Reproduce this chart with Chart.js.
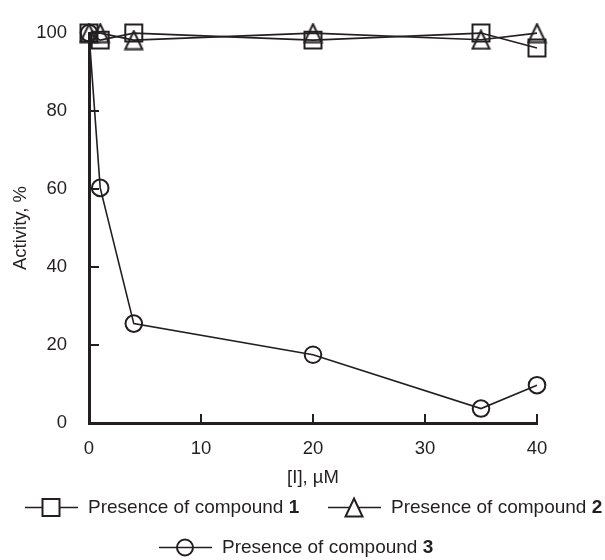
<!DOCTYPE html>
<html>
<head>
<meta charset="utf-8">
<title>Activity vs [I]</title>
<script src="https://cdn.jsdelivr.net/npm/chart.js@4.4.1/dist/chart.umd.min.js"></script>
<style>
  html, body { margin: 0; padding: 0; background: #fff; }
  #chart { display: block; }
</style>
</head>
<body>
<canvas id="chart" width="605" height="560"></canvas>
<script>
// concentration of inhibitor, µM
var concentrations = [0, 1, 4, 20, 35, 40];
// activity, %
var compound1 = [100, 98.2, 100, 98.2, 100, 96.2];
var compound2 = [100, 100, 98.2, 100, 98.3, 100];
var compound3 = [100, 60.3, 25.5, 17.5, 3.7, 9.7];
var seriesLabels = ['Presence of compound ', 'Presence of compound ', 'Presence of compound '];
var seriesNumbers = ['1', '2', '3'];
var xTicks = [0, 10, 20, 30, 40];
var yTicks = [0, 20, 40, 60, 80, 100];

var INK = '#231f20';
var FONT = '"Liberation Sans", Arial, Helvetica, sans-serif';

// open triangle drawn centred on its bounding box
function triangleMarker() {
    var c = document.createElement('canvas');
    c.width = 21; c.height = 21;
    var g = c.getContext('2d');
    g.strokeStyle = INK;
    g.lineWidth = 2;
    g.lineJoin = 'miter';
    g.beginPath();
    g.moveTo(10.5, 1.5);
    g.lineTo(19, 19.5);
    g.lineTo(2, 19.5);
    g.closePath();
    g.stroke();
    return c;
}
var tri = triangleMarker();

function toPoints(values) {
    return values.map(function(v, i) { return { x: concentrations[i], y: v }; });
}

function series(values, style, radius) {
    return {
        data: toPoints(values),
        showLine: true,
        borderColor: INK,
        borderWidth: 1.6,
        pointStyle: style,
        pointRadius: radius,
        pointHoverRadius: radius,
        pointBorderWidth: 2,
        pointBorderColor: INK,
        pointBackgroundColor: 'rgba(0,0,0,0)',
        clip: false
    };
}

// tick marks pointing into the plot
var innerTicks = {
    id: 'innerTicks',
    beforeDatasetsDraw: function(chart) {
        var ctx = chart.ctx, area = chart.chartArea;
        var sx = chart.scales.x, sy = chart.scales.y;
        ctx.save();
        ctx.strokeStyle = INK;
        ctx.lineWidth = 2;
        ctx.beginPath();
        yTicks.forEach(function(v) {
            var p = Math.round(sy.getPixelForValue(v));
            ctx.moveTo(area.left, p);
            ctx.lineTo(area.left + 10, p);
        });
        xTicks.forEach(function(v) {
            var p = Math.round(sx.getPixelForValue(v));
            ctx.moveTo(p, area.bottom);
            ctx.lineTo(p, area.bottom - 9);
        });
        ctx.stroke();
        ctx.restore();
    }
};

// legend with bold compound number
var boldLegend = {
    id: 'boldLegend',
    afterDraw: function(chart) {
        var ctx = chart.ctx;
        var items = [
            { x: 25, y: 507.5, marker: 'rect' },
            { x: 328, y: 507.5, marker: 'triangle' },
            { x: 159, y: 547.5, marker: 'circle' }
        ];
        ctx.save();
        items.forEach(function(it, i) {
            var cx = it.x + 26;
            ctx.strokeStyle = INK;
            ctx.lineWidth = 1.5;
            ctx.beginPath();
            ctx.moveTo(it.x, it.y);
            ctx.lineTo(it.x + 53, it.y);
            ctx.stroke();
            ctx.lineWidth = 2;
            if (it.marker === 'rect') {
                ctx.fillStyle = '#fff';
                ctx.fillRect(cx - 8.5, it.y - 8.5, 17, 17);
                ctx.strokeRect(cx - 8.5, it.y - 8.5, 17, 17);
            } else if (it.marker === 'triangle') {
                ctx.fillStyle = '#fff';
                ctx.beginPath();
                ctx.moveTo(cx, it.y - 9);
                ctx.lineTo(cx + 8.5, it.y + 9);
                ctx.lineTo(cx - 8.5, it.y + 9);
                ctx.closePath();
                ctx.fill();
                ctx.stroke();
            } else {
                ctx.beginPath();
                ctx.arc(cx, it.y, 8, 0, Math.PI * 2);
                ctx.stroke();
            }
            var tx = it.x + 63;
            ctx.fillStyle = INK;
            ctx.textBaseline = 'middle';
            ctx.textAlign = 'left';
            ctx.font = '19px ' + FONT;
            ctx.fillText(seriesLabels[i], tx, it.y);
            var w = ctx.measureText(seriesLabels[i]).width;
            ctx.font = 'bold 19px ' + FONT;
            ctx.fillText(seriesNumbers[i], tx + w, it.y);
        });
        ctx.restore();
    }
};

Chart.defaults.font.family = FONT;
Chart.defaults.font.size = 18.5;
Chart.defaults.color = INK;

new Chart(document.getElementById('chart'), {
    type: 'scatter',
    data: {
        datasets: [
            series(compound1, 'rect', 12),
            series(compound2, tri, 10),
            series(compound3, 'circle', 8.3)
        ]
    },
    options: {
        responsive: false,
        animation: false,
        layout: { padding: { left: 0, right: 68, top: 23, bottom: 71 } },
        plugins: {
            legend: { display: false },
            tooltip: { enabled: false }
        },
        scales: {
            x: {
                type: 'linear',
                min: 0,
                max: 40,
                afterFit: function(scale) { scale.height = 66; },
                afterBuildTicks: function(scale) {
                    scale.ticks = xTicks.map(function(v) { return { value: v }; });
                },
                grid: { display: false, drawTicks: false },
                border: { display: true, width: 3, color: INK },
                ticks: { padding: 15, color: INK, font: { size: 18.5 } },
                title: {
                    display: true,
                    text: '[I], µM',
                    color: INK,
                    font: { size: 18.5 },
                    padding: { top: 0, bottom: 0 }
                }
            },
            y: {
                type: 'linear',
                min: 0,
                max: 100,
                afterFit: function(scale) { scale.width = 89; },
                afterBuildTicks: function(scale) {
                    scale.ticks = yTicks.map(function(v) { return { value: v }; });
                },
                grid: { display: false, drawTicks: false },
                border: { display: true, width: 3, color: INK },
                ticks: { padding: 22, color: INK, font: { size: 18.5 } },
                title: {
                    display: true,
                    text: 'Activity, %',
                    color: INK,
                    font: { size: 18.5 },
                    padding: { top: 10, bottom: 0 }
                }
            }
        }
    },
    plugins: [innerTicks, boldLegend]
});
</script>
</body>
</html>
